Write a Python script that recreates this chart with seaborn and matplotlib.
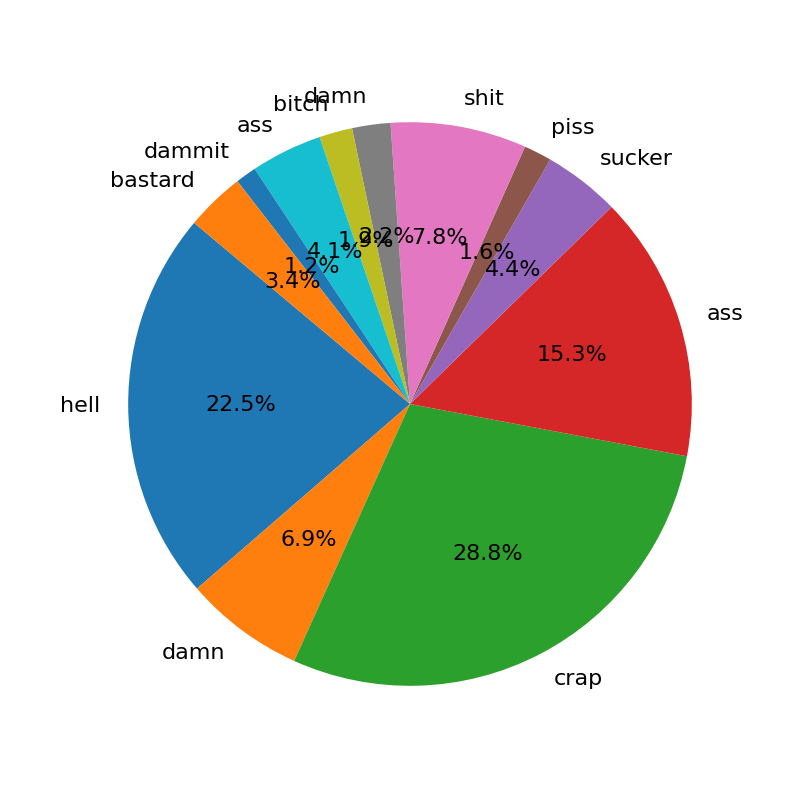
import matplotlib
matplotlib.use("Agg")
import matplotlib.pyplot as plt
import seaborn as sns

words = ["hell", "damn", "crap", "ass", "sucker", "piss", "shit",
         "damn", "bitch", "ass", "dammit", "bastard"]
shares = [22.5, 6.9, 28.8, 15.3, 4.4, 1.6, 7.8, 2.2, 1.9, 4.1, 1.2, 3.4]

colors = sns.color_palette("tab10", 10)
colors = [colors[i % 10] for i in range(len(words))]

fig, ax = plt.subplots(figsize=(8, 8), dpi=100)
ax.pie(shares, labels=words, colors=colors, autopct="%1.1f%%",
       startangle=140, textprops={"fontsize": 16})
ax.axis("equal")
plt.savefig("out.png", dpi=100)
